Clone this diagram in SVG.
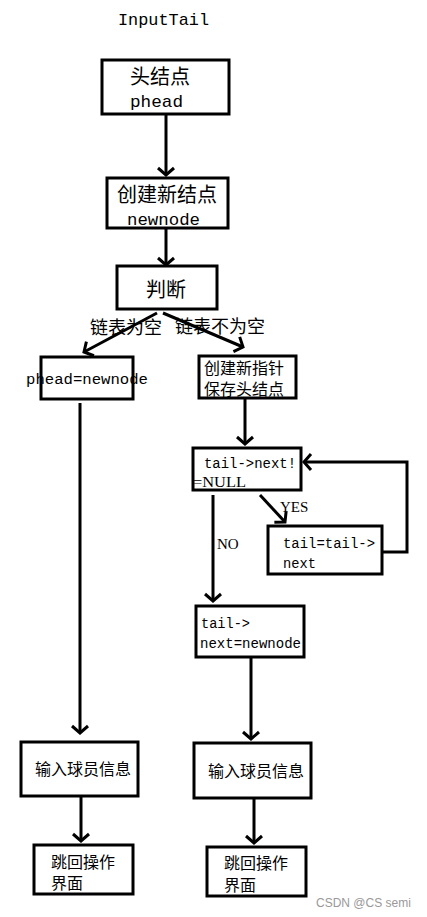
<svg xmlns="http://www.w3.org/2000/svg" width="427" height="917" viewBox="0 0 427 917">
<style>
.box{fill:#fff;stroke:#000;stroke-width:3}
.ln{fill:none;stroke:#000;stroke-width:3}
.cn{font-family:"Liberation Serif","Noto Sans CJK SC",serif;fill:#000}
.mo{font-family:"Liberation Mono",monospace;fill:#000}
.se{font-family:"Liberation Serif",serif;fill:#000}
</style>
<defs>
<marker id="ah" markerUnits="userSpaceOnUse" markerWidth="20" markerHeight="20" refX="10" refY="10" orient="auto" viewBox="0 0 20 20">
<path d="M3,2 L10,10 L3,18" fill="none" stroke="#000" stroke-width="3"/>
</marker>
</defs>
<rect width="427" height="917" fill="#fff"/>
<text class="mo" x="118" y="25" font-size="17" textLength="91" lengthAdjust="spacingAndGlyphs">InputTail</text>

<g id="connectors">
<line class="ln" x1="166" y1="114" x2="166" y2="175" marker-end="url(#ah)"/>
<line class="ln" x1="166" y1="228" x2="166" y2="265" marker-end="url(#ah)"/>
<line class="ln" x1="157" y1="313" x2="84" y2="352" marker-end="url(#ah)"/>
<line class="ln" x1="163" y1="313" x2="243" y2="347" marker-end="url(#ah)"/>
<line class="ln" x1="80" y1="403" x2="80" y2="733" marker-end="url(#ah)"/>
<line class="ln" x1="245" y1="398" x2="245" y2="444" marker-end="url(#ah)"/>
<line class="ln" x1="260" y1="495" x2="285" y2="522" marker-end="url(#ah)"/>
<polyline class="ln" points="382,552 407,552 407,462 304,462" marker-end="url(#ah)"/>
<line class="ln" x1="213" y1="495" x2="213" y2="601" marker-end="url(#ah)"/>
<line class="ln" x1="251" y1="657" x2="251" y2="739" marker-end="url(#ah)"/>
<line class="ln" x1="81" y1="796" x2="81" y2="841" marker-end="url(#ah)"/>
<line class="ln" x1="254" y1="798" x2="254" y2="843" marker-end="url(#ah)"/>
<text class="cn" x="90" y="334" font-size="18">链表为空</text>
<text class="cn" x="175" y="333" font-size="18">链表不为空</text>
<text class="se" x="280" y="512" font-size="15">YES</text>
<text class="se" x="217" y="549" font-size="15">NO</text>
</g>

<g id="n_head">
<rect class="box" x="102" y="60" width="127" height="54"/>
<text class="cn" x="130" y="84" font-size="20">头结点</text>
<text class="mo" x="130" y="107" font-size="17" textLength="53" lengthAdjust="spacingAndGlyphs">phead</text>
</g>

<g id="n_new">
<rect class="box" x="107" y="178" width="121" height="50"/>
<text class="cn" x="117" y="202" font-size="20">创建新结点</text>
<text class="mo" x="127" y="225" font-size="17" textLength="73" lengthAdjust="spacingAndGlyphs">newnode</text>
</g>

<g id="n_judge">
<rect class="box" x="117" y="266" width="100" height="43"/>
<text class="cn" x="146" y="297" font-size="20">判断</text>
</g>

<g id="n_phead">
<rect class="box" x="41" y="357" width="92" height="42"/>
<text class="mo" x="26" y="384" font-size="15.5" textLength="122" lengthAdjust="spacingAndGlyphs">phead=newnode</text>
</g>

<g id="n_ptr">
<rect class="box" x="199" y="356" width="97" height="42"/>
<text class="cn" x="204" y="374" font-size="16">创建新指针</text>
<text class="cn" x="204" y="395" font-size="16">保存头结点</text>
</g>

<g id="n_cond">
<rect class="box" x="193" y="448" width="108" height="42"/>
<text class="mo" x="204" y="468" font-size="14" textLength="92" lengthAdjust="spacingAndGlyphs">tail-&gt;next!</text>
<text class="se" x="193" y="487" font-size="14" textLength="53" lengthAdjust="spacingAndGlyphs">=NULL</text>
</g>

<g id="n_step">
<rect class="box" x="268" y="526" width="114" height="48"/>
<text class="mo" x="283" y="548" font-size="14" textLength="92" lengthAdjust="spacingAndGlyphs">tail=tail-&gt;</text>
<text class="mo" x="283" y="568" font-size="14" textLength="33" lengthAdjust="spacingAndGlyphs">next</text>
</g>

<g id="n_assign">
<rect class="box" x="196" y="606" width="108" height="51"/>
<text class="mo" x="201" y="628" font-size="14" textLength="49" lengthAdjust="spacingAndGlyphs">tail-&gt;</text>
<text class="mo" x="200" y="648" font-size="14" textLength="101" lengthAdjust="spacingAndGlyphs">next=newnode</text>
</g>

<g id="n_input_l">
<rect class="box" x="21" y="742" width="117" height="54"/>
<text class="cn" x="35" y="775" font-size="16">输入球员信息</text>
</g>

<g id="n_input_r">
<rect class="box" x="194" y="743" width="117" height="55"/>
<text class="cn" x="208" y="777" font-size="16">输入球员信息</text>
</g>

<g id="n_back_l">
<rect class="box" x="34" y="845" width="99" height="49"/>
<text class="cn" x="51" y="868" font-size="16">跳回操作</text>
<text class="cn" x="51" y="889" font-size="16">界面</text>
</g>

<g id="n_back_r">
<rect class="box" x="207" y="847" width="99" height="49"/>
<text class="cn" x="224" y="869" font-size="16">跳回操作</text>
<text class="cn" x="224" y="891" font-size="16">界面</text>
</g>

<text x="316" y="907" font-family="Liberation Sans,sans-serif" font-size="12" fill="#999">CSDN @CS semi</text>
</svg>
